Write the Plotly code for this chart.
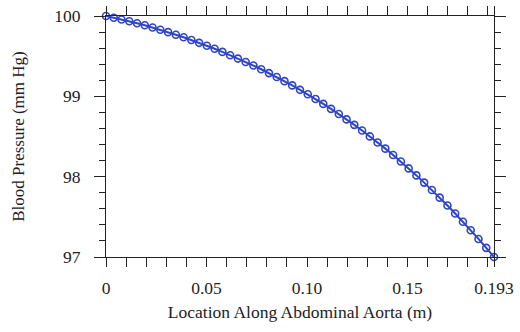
import plotly.graph_objects as go

location_m = [0, 0.00386, 0.00772, 0.01158, 0.01544, 0.0193, 0.02316, 0.02702, 0.03088, 0.03474,
              0.0386, 0.04246, 0.04632, 0.05018, 0.05404, 0.0579, 0.06176, 0.06562, 0.06948, 0.07334,
              0.0772, 0.08106, 0.08492, 0.08878, 0.09264, 0.0965, 0.10036, 0.10422, 0.10808, 0.11194,
              0.1158, 0.11966, 0.12352, 0.12738, 0.13124, 0.1351, 0.13896, 0.14282, 0.14668, 0.15054,
              0.1544, 0.15826, 0.16212, 0.16598, 0.16984, 0.1737, 0.17756, 0.18142, 0.18528, 0.18914, 0.193]

pressure_mmhg = [100.000, 99.979, 99.957, 99.934, 99.910, 99.884, 99.857, 99.828, 99.799, 99.767,
                 99.735, 99.701, 99.666, 99.630, 99.592, 99.553, 99.512, 99.470, 99.427, 99.383,
                 99.337, 99.289, 99.240, 99.189, 99.136, 99.081, 99.025, 98.966, 98.906, 98.844,
                 98.780, 98.713, 98.645, 98.574, 98.501, 98.426, 98.349, 98.270, 98.188, 98.103,
                 98.016, 97.926, 97.834, 97.739, 97.641, 97.541, 97.438, 97.333, 97.225, 97.114, 97.000]

x_tick_vals = [0, 0.05, 0.10, 0.15, 0.193]
x_tick_text = ["0", "0.05", "0.10", "0.15", "0.193"]
x_minor_vals = [0.01, 0.02, 0.03, 0.04, 0.06, 0.07, 0.08, 0.09, 0.11, 0.12, 0.13, 0.14,
                0.16, 0.17, 0.18, 0.19]
y_tick_vals = [97, 98, 99, 100]
y_tick_text = ["97", "98", "99", "100"]
y_minor_vals = [97.2, 97.4, 97.6, 97.8, 98.2, 98.4, 98.6, 98.8, 99.2, 99.4, 99.6, 99.8]

blue = "#2f45c4"
ink = "#222"
font_family = "Liberation Serif, Times New Roman, serif"

fig = go.Figure()
fig.add_trace(go.Scatter(
    x=location_m, y=pressure_mmhg, mode="lines+markers",
    line=dict(color=blue, width=2),
    marker=dict(symbol="circle-open", size=7, color=blue, line=dict(width=1.6, color=blue)),
    cliponaxis=False, showlegend=False,
))

axis_common = dict(
    showgrid=False, zeroline=False, showline=True, linecolor=ink, linewidth=1,
    mirror="allticks", ticks="outside", tickcolor=ink, tickwidth=1, automargin=False,
    tickfont=dict(family=font_family, size=17.5, color=ink),
)

fig.update_xaxes(
    range=[0, 0.193], tickmode="array", tickvals=x_tick_vals, ticktext=x_tick_text,
    ticklen=9, ticklabelstandoff=6,
    minor=dict(tickmode="array", tickvals=x_minor_vals, ticks="outside", ticklen=9,
               tickcolor=ink, tickwidth=1, showgrid=False),
    title=dict(text="Location Along Abdominal Aorta (m)",
               font=dict(family=font_family, size=17.5, color=ink), standoff=8),
    **axis_common,
)
fig.update_yaxes(
    range=[97, 100], tickmode="array", tickvals=y_tick_vals, ticktext=y_tick_text,
    ticklen=11, ticklabelstandoff=10,
    minor=dict(tickmode="array", tickvals=y_minor_vals, ticks="outside", ticklen=6,
               tickcolor=ink, tickwidth=1, showgrid=False),
    title=dict(text="Blood Pressure (mm Hg)",
               font=dict(family=font_family, size=17, color=ink), standoff=25),
    **axis_common,
)

fig.update_layout(
    width=520, height=332, autosize=False,
    margin=dict(l=106, r=26, t=16, b=75),
    paper_bgcolor="white", plot_bgcolor="white",
)

fig.write_html("out.html")
